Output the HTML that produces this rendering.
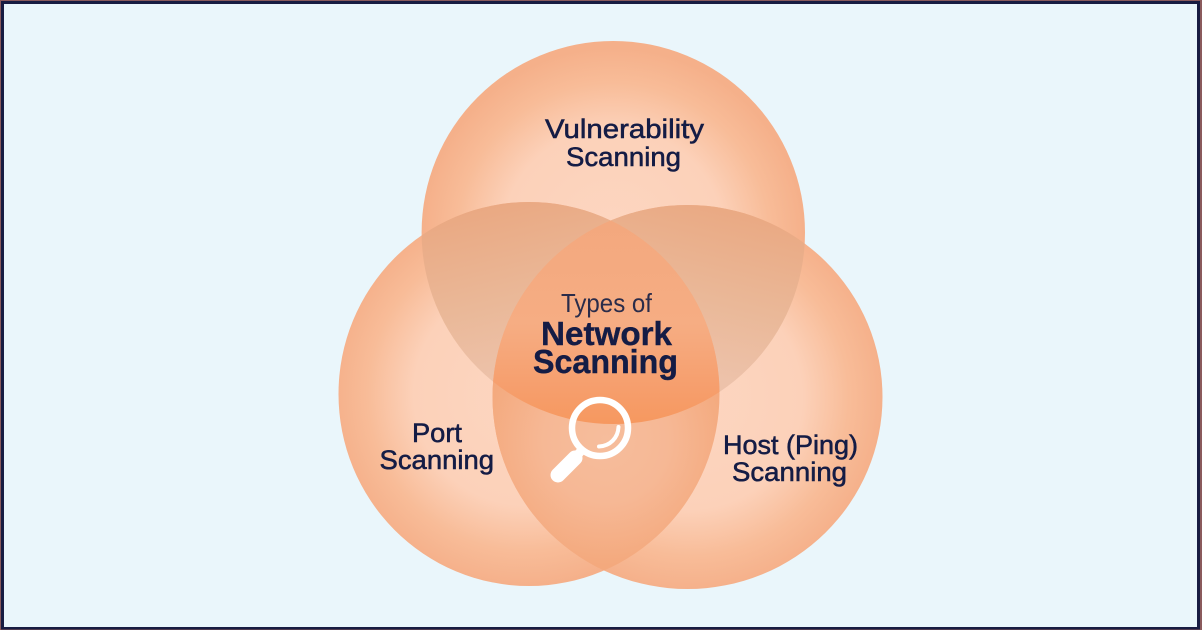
<!DOCTYPE html>
<html><head><meta charset="utf-8"><style>
html,body{margin:0;padding:0;width:1202px;height:630px;overflow:hidden;background:#eaf6fb}
svg{display:block}
text{font-family:"Liberation Sans",sans-serif;fill:#141c45}
.m{font-size:27px;stroke:#141c45;stroke-width:.55px}
.b{font-size:33px;font-weight:bold;stroke:#141c45;stroke-width:.4px}
</style></head><body>
<svg width="1202" height="630" viewBox="0 0 1202 630" xmlns="http://www.w3.org/2000/svg">
<defs>
<radialGradient id="gt" gradientUnits="userSpaceOnUse" cx="613" cy="240" r="192"><stop offset="0" stop-color="#fdd6c1"/><stop offset=".58" stop-color="#fcd1b9"/><stop offset=".82" stop-color="#f8bc98"/><stop offset="1" stop-color="#f5b08a"/></radialGradient>
<radialGradient id="gl" gradientUnits="userSpaceOnUse" cx="525" cy="394" r="192"><stop offset="0" stop-color="#fdd6c1"/><stop offset=".58" stop-color="#fcd1b9"/><stop offset=".82" stop-color="#f8bc98"/><stop offset="1" stop-color="#f5b08a"/></radialGradient>
<radialGradient id="gr" gradientUnits="userSpaceOnUse" cx="690" cy="397" r="194"><stop offset="0" stop-color="#fdd6c1"/><stop offset=".58" stop-color="#fcd1b9"/><stop offset=".82" stop-color="#f8bc98"/><stop offset="1" stop-color="#f5b08a"/></radialGradient>
<linearGradient id="gtl" gradientUnits="userSpaceOnUse" x1="500" y1="205" x2="540" y2="370"><stop offset="0" stop-color="#eaa983"/><stop offset=".55" stop-color="#eab898"/><stop offset="1" stop-color="#edc2aa"/></linearGradient>
<linearGradient id="gtr" gradientUnits="userSpaceOnUse" x1="720" y1="205" x2="680" y2="370"><stop offset="0" stop-color="#eaa983"/><stop offset=".55" stop-color="#eab898"/><stop offset="1" stop-color="#edc2aa"/></linearGradient>
<linearGradient id="gc" gradientUnits="userSpaceOnUse" x1="606" y1="222" x2="606" y2="425"><stop offset="0" stop-color="#f3a87e"/><stop offset=".5" stop-color="#f6ad83"/><stop offset=".8" stop-color="#f69f6e"/><stop offset="1" stop-color="#f6985f"/></linearGradient>
<radialGradient id="gb" gradientUnits="userSpaceOnUse" cx="606" cy="440" r="125"><stop offset="0" stop-color="#f6bd9c"/><stop offset=".5" stop-color="#f6b895"/><stop offset="1" stop-color="#f4a97d"/></radialGradient>
<clipPath id="ct"><ellipse cx="613.3" cy="232.5" rx="191.7" ry="191.5"/></clipPath>
<clipPath id="cl"><ellipse cx="529" cy="394" rx="190.5" ry="192"/></clipPath>
<clipPath id="cr"><ellipse cx="687.5" cy="397" rx="195" ry="192"/></clipPath>
</defs>
<rect width="1202" height="630" fill="#8a5a5c"/>
<rect x="1" y="1" width="1199" height="628.500" fill="#181c42"/>
<rect x="4" y="4" width="1193" height="623" fill="#eaf6fb"/>

<ellipse cx="613.3" cy="232.5" rx="191.7" ry="191.5" fill="url(#gt)"/>
<ellipse cx="529" cy="394" rx="190.5" ry="192" fill="url(#gl)"/>
<ellipse cx="687.5" cy="397" rx="195" ry="192" fill="url(#gr)"/>

<g clip-path="url(#ct)"><ellipse cx="529" cy="394" rx="190.5" ry="192" fill="url(#gtl)"/></g>
<g clip-path="url(#ct)"><ellipse cx="687.5" cy="397" rx="195" ry="192" fill="url(#gtr)"/></g>
<g clip-path="url(#cl)"><ellipse cx="687.5" cy="397" rx="195" ry="192" fill="url(#gb)"/></g>
<g clip-path="url(#ct)"><g clip-path="url(#cl)"><ellipse cx="687.5" cy="397" rx="195" ry="192" fill="url(#gc)"/></g></g>

<text class="m" x="545" y="138" textLength="159" lengthAdjust="spacingAndGlyphs">Vulnerability</text>
<text class="m" x="566" y="166" textLength="115" lengthAdjust="spacingAndGlyphs">Scanning</text>
<text class="m" x="412" y="442" textLength="50" lengthAdjust="spacingAndGlyphs">Port</text>
<text class="m" x="379.5" y="469" textLength="114.5" lengthAdjust="spacingAndGlyphs">Scanning</text>
<text class="m" x="723" y="454" textLength="135" lengthAdjust="spacingAndGlyphs">Host (Ping)</text>
<text class="m" x="732" y="481" textLength="115" lengthAdjust="spacingAndGlyphs">Scanning</text>
<text x="561" y="312" font-size="26" textLength="91" lengthAdjust="spacingAndGlyphs" style="fill:#2a2c4a">Types of</text>
<text class="b" x="541" y="345" textLength="131" lengthAdjust="spacingAndGlyphs">Network</text>
<text class="b" x="533" y="373" textLength="145" lengthAdjust="spacingAndGlyphs">Scanning</text>

<g fill="none" stroke="#fff" stroke-linecap="round">
<circle cx="600" cy="428" r="28" stroke-width="6.5"/>
<path d="M599 446.500 C610 446 618 438 618.500 427" stroke-width="4"/>
<path d="M558 475 L575 458" stroke-width="15"/>
<path d="M573 460 L581 451" stroke-width="9" stroke-linecap="butt"/>
</g>
</svg>
</body></html>
